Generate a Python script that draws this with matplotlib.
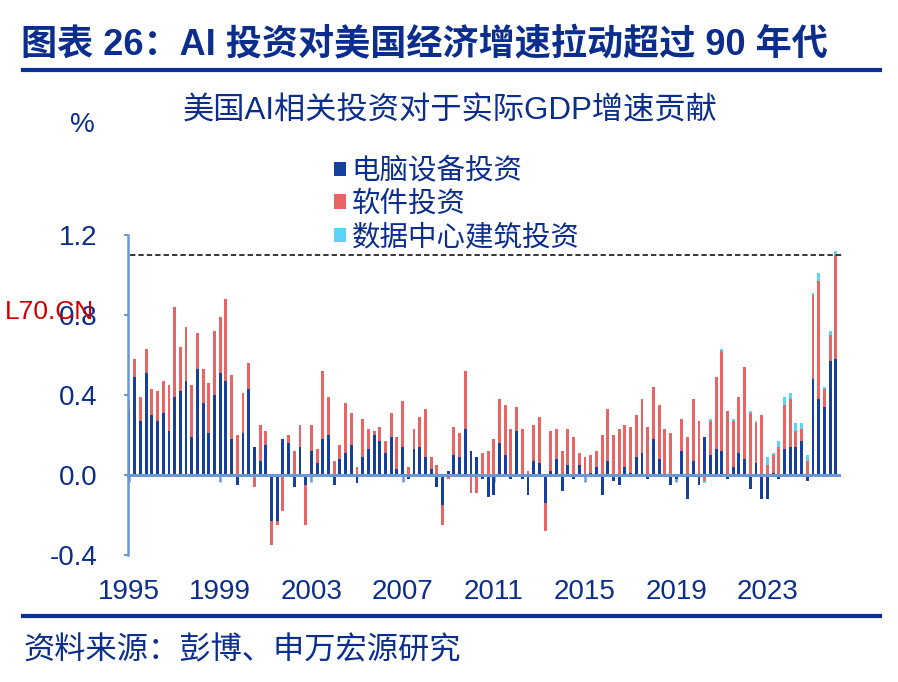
import numpy as np
import matplotlib
matplotlib.use("Agg")
import matplotlib.pyplot as plt
from matplotlib.patches import Patch
from matplotlib.lines import Line2D

plt.rcParams['font.family'] = ['Liberation Sans', 'Noto Sans CJK SC']
plt.rcParams['axes.unicode_minus'] = False

# ---------------- data (quarterly, 1995Q1 onward) ----------------
start_year = 1995
computer = [
    0.32, 0.49, 0.27, 0.51, 0.30, 0.27, 0.31, 0.22, 0.39, 0.42,
    0.47, 0.19, 0.53, 0.36, 0.21, 0.40, 0.51, 0.47, 0.18, -0.05,
    0.21, 0.43, 0.14, 0.07, 0.15, -0.23, -0.23, 0.18, 0.16, -0.06,
    0.14, -0.05, 0.12, 0.06, 0.18, 0.20, -0.05, 0.08, 0.11, 0.15,
    -0.04, 0.09, 0.13, 0.20, 0.17, 0.11, 0.19, 0.03, 0.14, -0.02,
    0.13, 0.14, 0.09, 0.03, -0.06, -0.15, 0.02, 0.10, 0.09, 0.23,
    0.12, 0.09, -0.02, -0.11, -0.10, 0.16, 0.10, -0.02, 0.22, -0.02,
    -0.10, 0.07, 0.06, -0.14, 0.02, 0.08, -0.08, 0.05, -0.02, 0.05,
    0.00, 0.01, 0.04, -0.10, 0.07, -0.03, -0.05, 0.04, 0.01, 0.09,
    0.11, -0.02, 0.18, 0.08, -0.01, -0.05, -0.02, 0.12, -0.12, 0.07,
    -0.05, 0.19, 0.10, 0.13, 0.12, -0.02, 0.04, 0.11, 0.08, -0.07,
    0.06, -0.12, -0.12, 0.01, -0.02, 0.13, 0.14, 0.14, 0.17, -0.03,
    0.48, 0.38, 0.34, 0.57, 0.58,
]
software = [
    0.05, 0.09, 0.12, 0.12, 0.13, 0.15, 0.16, 0.23, 0.45, 0.22,
    0.27, 0.26, 0.18, 0.17, 0.25, 0.32, 0.28, 0.41, 0.32, 0.20,
    0.20, 0.13, -0.06, 0.18, 0.07, -0.12, -0.02, -0.18, 0.04, 0.12,
    0.11, -0.20, 0.13, 0.07, 0.34, 0.19, 0.07, 0.07, 0.25, 0.16,
    0.04, 0.19, 0.10, 0.02, 0.07, 0.06, 0.12, 0.16, 0.23, 0.04,
    0.10, 0.15, 0.24, 0.06, 0.05, -0.10, -0.02, 0.14, 0.12, 0.29,
    -0.09, -0.09, 0.11, 0.12, 0.18, 0.22, 0.25, 0.23, 0.12, 0.23,
    0.02, 0.18, 0.23, -0.14, 0.20, 0.15, 0.12, 0.18, 0.19, 0.06,
    0.09, 0.09, 0.08, 0.20, 0.26, 0.20, 0.23, 0.21, 0.23, 0.21,
    0.27, 0.24, 0.26, 0.27, 0.23, 0.21, 0.00, 0.16, 0.19, 0.31,
    0.27, -0.03, 0.17, 0.36, 0.50, 0.32, 0.23, 0.28, 0.46, 0.31,
    0.20, 0.30, 0.05, 0.09, 0.14, 0.22, 0.24, 0.08, 0.06, 0.07,
    0.42, 0.59, 0.09, 0.13, 0.52,
]
datacenter = [
    0, 0, 0, 0, 0, 0, 0, 0, 0, 0,
    0, 0, 0, 0, 0, 0, 0, 0, 0, 0,
    0, 0, 0, 0, 0, 0, 0, 0, 0, 0,
    0, 0, 0, 0, 0, 0, 0, 0, 0, 0,
    0, 0, 0, 0, 0, 0, 0, 0, 0, 0,
    0, 0, 0, 0, 0, 0, 0, 0, 0, 0,
    0, 0, 0, 0, 0, 0, 0, 0, 0, 0,
    0, 0, 0, 0, 0, 0, 0, 0, 0, 0,
    0, 0, 0, 0, 0, 0, 0, 0, 0, 0,
    0, 0, 0, 0, 0, 0, 0, 0, 0, 0,
    0, -0.01, 0.01, 0, 0.01, 0, 0.01, 0, 0, 0.01,
    0.01, 0, 0.04, 0.01, 0.03, 0.04, 0.03, 0.04, 0.03, 0.03,
    0.01, 0.04, 0.01, 0.02, 0.02,
]
series_names = ['电脑设备投资', '软件投资', '数据中心建筑投资']
series_colors = ['#16409f', '#ea6464', '#5dd3f6']
x_tick_labels = ['1995', '1999', '2003', '2007', '2011', '2015', '2019', '2023']
y_ticks = [-0.4, 0.0, 0.4, 0.8, 1.2]
ref_level = 1.1

title = '图表 26：AI 投资对美国经济增速拉动超过 90 年代'
subtitle = '美国AI相关投资对于实际GDP增速贡献'
source = '资料来源：彭博、申万宏源研究'

navy = '#0b2d8c'
axis_col = '#6b98d3'

# ---------------- figure ----------------
W, H = 898, 682
fig = plt.figure(figsize=(W / 100, H / 100), dpi=100)
ax = fig.add_axes([128 / W, (H - 555) / H, (839 - 128) / W, 320 / H])

n = len(computer)
x = np.arange(n)
pos_base = np.zeros(n)
neg_base = np.zeros(n)
for vals, col, name in zip([computer, software, datacenter], series_colors, series_names):
    v = np.asarray(vals, dtype=float)
    bottom = np.where(v >= 0, pos_base, neg_base)
    ax.bar(x, v, bottom=bottom, width=0.5, color=col, linewidth=0, label=name, zorder=2)
    pos_base = pos_base + np.where(v > 0, v, 0)
    neg_base = neg_base + np.where(v < 0, v, 0)

ax.set_xlim(-0.18, 124.56)
ax.set_ylim(-0.4, 1.2)

# reference dashed line
ax.axhline(ref_level, xmin=0.003, xmax=1.006, color='black', lw=1.1,
           ls=(0, (3.5, 2.0)), clip_on=False, zorder=3)

for s in ['top', 'right']:
    ax.spines[s].set_visible(False)
ax.spines['left'].set_color(axis_col)
ax.spines['left'].set_linewidth(1.8)
ax.spines['bottom'].set_position(('data', 0))
ax.spines['bottom'].set_color(axis_col)
ax.spines['bottom'].set_linewidth(2.2)
ax.spines['bottom'].set_zorder(4)

ax.set_yticks(y_ticks)
ax.set_yticklabels([f'{t:.1f}' for t in y_ticks])
ax.tick_params(axis='y', direction='out', length=3, width=1.5, color=axis_col,
               labelsize=20, labelcolor=navy, pad=19)

tick_pos = [i * 16 for i in range(len(x_tick_labels))]
ax.set_xticks(tick_pos)
ax.set_xticklabels(x_tick_labels)
ax.tick_params(axis='x', direction='out', length=5, width=1.8, color=axis_col,
               labelsize=20, labelcolor=navy, pad=70)

# legend
leg = fig.legend(
    handles=[Patch(facecolor=c, edgecolor='none') for c in series_colors],
    labels=series_names, loc='upper left',
    bbox_to_anchor=(334 / W, 1 - 158 / H), frameon=False,
    fontsize=20.5, handlelength=0.42, handleheight=0.42, handletextpad=0.2,
    labelspacing=0.22, borderpad=0, borderaxespad=0,
)
for t in leg.get_texts():
    t.set_color(navy)

# texts
fig.text(21 / W, 1 - 46 / H, title, fontsize=26, fontweight='bold', color=navy,
         ha='left', va='center')
fig.text(450 / W, 1 - 111 / H, subtitle, fontsize=22.5, color=navy, ha='center', va='center')
fig.text(82 / W, 1 - 125 / H, '%', fontsize=20, color=navy, ha='center', va='center')
fig.text(5 / W, 1 - 312 / H, 'L70.CN', fontsize=19, color='#cc0000', ha='left', va='center')
fig.text(23 / W, 1 - 651 / H, source, fontsize=22.5, color=navy, ha='left', va='center')

# header / footer rules
fig.add_artist(Line2D([23 / W, 880 / W], [1 - 70 / H] * 2, lw=3.0, color='#0a2f96'))
fig.add_artist(Line2D([23 / W, 880 / W], [1 - 616 / H] * 2, lw=3.0, color='#0a2f96'))

fig.savefig('out.png', dpi=100)
